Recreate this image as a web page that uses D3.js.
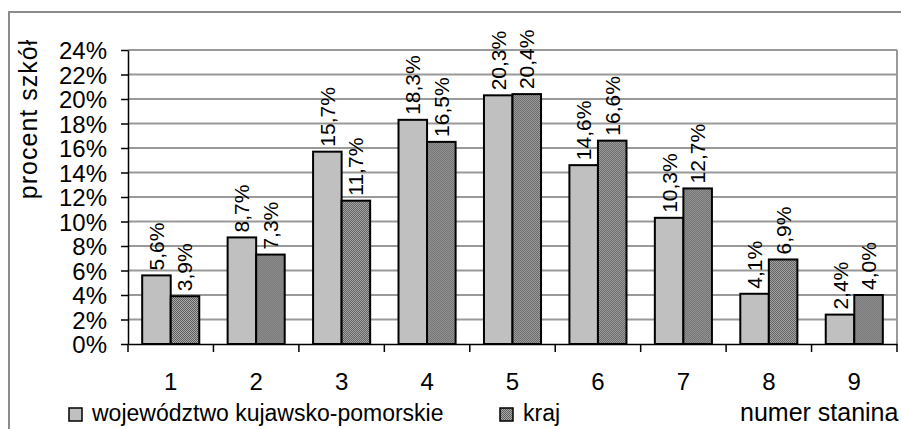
<!DOCTYPE html>
<html><head><meta charset="utf-8">
<script src="https://cdn.jsdelivr.net/npm/d3@7"></script>
<style>body{margin:0;background:#fff}svg{display:block;font-family:Arial,"Liberation Sans",sans-serif}</style>
</head><body>
<script>
const categories = ["1","2","3","4","5","6","7","8","9"];
const seriesNames = ["województwo kujawsko-pomorskie","kraj"];
const wojValues = [5.6, 8.7, 15.7, 18.3, 20.3, 14.6, 10.3, 4.1, 2.4];
const krajValues = [3.9, 7.3, 11.7, 16.5, 20.4, 16.6, 12.7, 6.9, 4.0];
const yTicks = [0,2,4,6,8,10,12,14,16,18,20,22,24];

(function(){
const W = 901, H = 429;
const FONT = "Arial, 'Liberation Sans', sans-serif";
const svg = d3.select("body").append("svg").attr("width", W).attr("height", H);
const defs = svg.append("defs");
const pat = defs.append("pattern").attr("id","dots").attr("width",2).attr("height",2).attr("patternUnits","userSpaceOnUse");
pat.append("rect").attr("width",2).attr("height",2).attr("fill","#ababab");
pat.append("rect").attr("width",1).attr("height",1).attr("fill","#5c5c5c");
pat.append("rect").attr("x",1).attr("y",1).attr("width",1).attr("height",1).attr("fill","#5c5c5c");

svg.append("path").attr("d","M9,440 L9,12 L910,12").attr("fill","none").attr("stroke","#8c8c8c").attr("stroke-width",2);

const pL = 128, pR = 897, pT = 50, pB = 344;
const x = d3.scaleBand().domain(categories).range([pL, pR]);
const x1 = d3.scaleBand().domain(seriesNames).range([x.bandwidth()*0.166, x.bandwidth()*0.834]);
const y = d3.scaleLinear().domain([0,24]).range([pB, pT]);

svg.append("g").selectAll("line").data(yTicks.filter(d=>d>0)).join("line")
  .attr("x1",pL).attr("x2",pR).attr("y1",d=>y(d)).attr("y2",d=>y(d))
  .attr("stroke","#999").attr("stroke-width",2);
svg.append("line").attr("x1",pR).attr("x2",pR).attr("y1",pT).attr("y2",pB).attr("stroke","#999").attr("stroke-width",2);

const data = categories.map((c,i)=>({c, vals:[{s:seriesNames[0],v:wojValues[i]},{s:seriesNames[1],v:krajValues[i]}]}));
const fmt = v => v.toFixed(1).replace(".",",") + "%";

const g = svg.append("g").selectAll("g").data(data).join("g").attr("transform",d=>`translate(${x(d.c)},0)`);
g.selectAll("rect").data(d=>d.vals).join("rect")
  .attr("x",d=>x1(d.s)).attr("width",x1.bandwidth())
  .attr("y",d=>y(d.v)).attr("height",d=>pB-y(d.v))
  .attr("fill",(d,i)=>i===0?"#c0c0c0":"url(#dots)")
  .attr("stroke","#000").attr("stroke-width",2);
g.selectAll("text").data(d=>d.vals).join("text")
  .attr("transform",d=>`translate(${x1(d.s)+x1.bandwidth()/2+7.5},${y(d.v)-5}) rotate(-90)`)
  .attr("font-size",21).attr("fill","#000").text(d=>fmt(d.v));

const yAxis = d3.axisLeft(y).tickValues(yTicks).tickFormat(d=>d+"%").tickSize(7).tickSizeOuter(0);
const ya = svg.append("g").attr("transform",`translate(${pL},0)`).call(yAxis);
ya.select(".domain").attr("stroke","#000").attr("stroke-width",1.5);
ya.selectAll(".tick line").attr("stroke","#000").attr("stroke-width",1.5);
ya.selectAll(".tick text").attr("font-size",24).attr("font-family",FONT).attr("fill","#000").attr("x",-21).attr("dy","0.36em");

const xAxis = d3.axisBottom(x).tickSize(0);
const xa = svg.append("g").attr("transform",`translate(0,${pB})`).call(xAxis);
xa.select(".domain").attr("stroke","#000").attr("stroke-width",1.5);
xa.selectAll(".tick text").attr("font-size",24).attr("font-family",FONT).attr("fill","#000").attr("dy",0).attr("y",46);
const edges = categories.map(c=>x(c)).concat([pR]);
svg.append("g").selectAll("line").data(edges).join("line")
  .attr("x1",d=>d).attr("x2",d=>d).attr("y1",pB).attr("y2",pB+8).attr("stroke","#000").attr("stroke-width",1.5);

svg.append("text").attr("transform","translate(37,119) rotate(-90)").attr("text-anchor","middle").attr("font-size",25).attr("letter-spacing",1).text("procent szkół");
svg.append("text").attr("x",740).attr("y",421).attr("font-size",25).text("numer stanina");

const leg = [{x:69, name:seriesNames[0], fill:"#c0c0c0"},{x:500, name:seriesNames[1], fill:"url(#dots)"}];
const lg = svg.append("g").selectAll("g").data(leg).join("g");
lg.append("rect").attr("x",d=>d.x).attr("y",408).attr("width",13).attr("height",13).attr("fill",d=>d.fill).attr("stroke","#000").attr("stroke-width",1.5);
lg.append("text").attr("x",d=>d.x+23).attr("y",421).attr("font-size",23).text(d=>d.name);
})();
</script>
</body></html>
